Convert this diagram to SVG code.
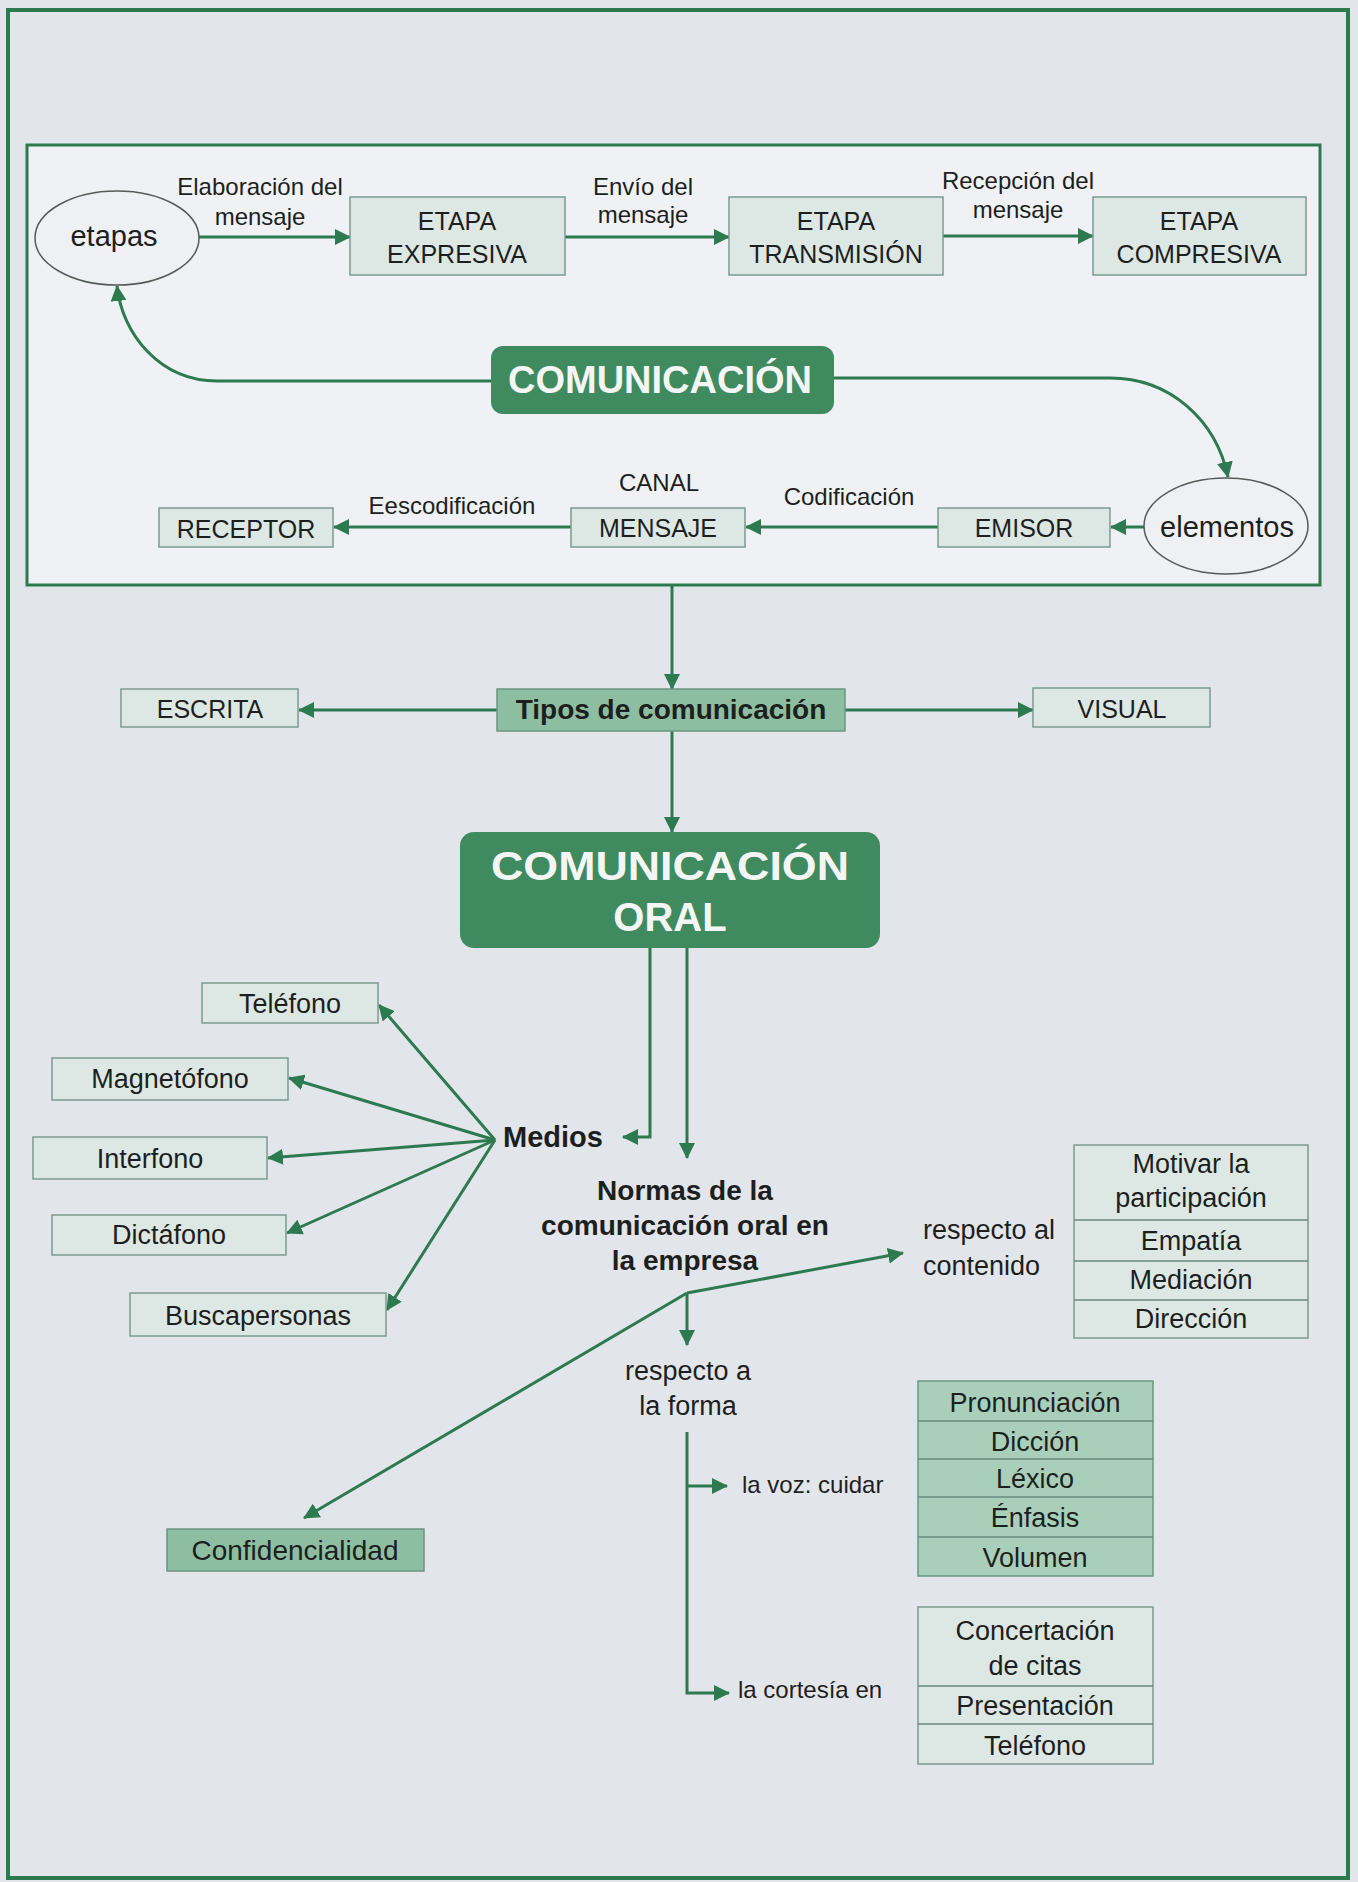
<svg xmlns="http://www.w3.org/2000/svg" width="1358" height="1882" viewBox="0 0 1358 1882">
<defs>
<style>
.t{font-family:"Liberation Sans",Arial,sans-serif;fill:#1d1f1e;text-anchor:middle}
.s{text-anchor:start}
.b{font-weight:bold}
.w{fill:#f4f6f5;font-weight:bold}
.f24{font-size:24px}.f25{font-size:25px}.f27{font-size:27px}.f28{font-size:28px}.f29{font-size:29px}
.box{fill:#dde8e4;stroke:#7d9a8e;stroke-width:1.5}
.mid{fill:#8dbea1;stroke:#6a977f;stroke-width:1.5}
.tab2{fill:#a9cfba;stroke:#6a977f;stroke-width:1.5}
.dark{fill:#3f8a5e}
.ell{fill:#eef0f3;stroke:#555b58;stroke-width:1.5}
.div{stroke:#6a8a7c;stroke-width:1.5}
.conn path,.conn line,.conn polyline{fill:none;stroke:#2e7a50;stroke-width:3}
.arr{marker-end:url(#ah)}
</style>
<marker id="ah" viewBox="0 0 16 16" refX="15" refY="8" markerWidth="16" markerHeight="16" markerUnits="userSpaceOnUse" orient="auto"><path d="M0,0 L16,8 L0,16 z" fill="#2e7a50"/></marker>
</defs>
<rect x="0" y="0" width="1358" height="1882" fill="#e2e5e9"/>
<rect x="8" y="10" width="1340" height="1868" fill="none" stroke="#2e7a4f" stroke-width="4"/>
<rect id="panel" x="27" y="145" width="1293" height="440" fill="#eff1f4" stroke="#2e7a4f" stroke-width="3"/>

<g class="conn">
<line class="arr" x1="199" y1="237" x2="350" y2="237"/>
<line class="arr" x1="565" y1="237" x2="729" y2="237"/>
<line class="arr" x1="943" y1="236" x2="1093" y2="236"/>
<path class="arr" d="M491,381 H217 C160,381 122,334 117,286"/>
<path class="arr" d="M834,378 H1110 C1170,378 1216,420 1228,477"/>
<line class="arr" x1="1145" y1="527" x2="1111" y2="527"/>
<line class="arr" x1="938" y1="527" x2="746" y2="527"/>
<line class="arr" x1="571" y1="527" x2="334" y2="527"/>
<line class="arr" x1="672" y1="585" x2="672" y2="689"/>
<line class="arr" x1="497" y1="710" x2="299" y2="710"/>
<line class="arr" x1="845" y1="710" x2="1033" y2="710"/>
<line class="arr" x1="672" y1="731" x2="672" y2="832"/>
<polyline class="arr" points="650,948 650,1137 623,1137"/>
<line class="arr" x1="687" y1="948" x2="687" y2="1158"/>
<line class="arr" x1="495" y1="1140" x2="379" y2="1005"/>
<line class="arr" x1="495" y1="1140" x2="289" y2="1078"/>
<line class="arr" x1="495" y1="1140" x2="268" y2="1158"/>
<line class="arr" x1="495" y1="1140" x2="287" y2="1233"/>
<line class="arr" x1="495" y1="1140" x2="387" y2="1310"/>
<line class="arr" x1="687" y1="1293" x2="903" y2="1253"/>
<line class="arr" x1="687" y1="1293" x2="687" y2="1345"/>
<line class="arr" x1="687" y1="1293" x2="304" y2="1518"/>
<polyline class="arr" points="687,1432 687,1693 729,1693"/>
<line class="arr" x1="687" y1="1486" x2="727" y2="1486"/>
</g>

<g id="etapas"><ellipse class="ell" cx="117" cy="238" rx="82" ry="47"/><text class="t f29" x="114" y="246">etapas</text></g>
<g id="lbl-elaboracion"><text class="t f24" x="260" y="195">Elaboración del</text><text class="t f24" x="260" y="225">mensaje</text></g>
<g id="expresiva"><rect class="box" x="350" y="197" width="215" height="78"/><text class="t f25" x="457" y="230">ETAPA</text><text class="t f25" x="457" y="263">EXPRESIVA</text></g>
<g id="lbl-envio"><text class="t f24" x="643" y="195">Envío del</text><text class="t f24" x="643" y="223">mensaje</text></g>
<g id="transmision"><rect class="box" x="729" y="197" width="214" height="78"/><text class="t f25" x="836" y="230">ETAPA</text><text class="t f25" x="836" y="263">TRANSMISIÓN</text></g>
<g id="lbl-recepcion"><text class="t f24" x="1018" y="189">Recepción del</text><text class="t f24" x="1018" y="218">mensaje</text></g>
<g id="compresiva"><rect class="box" x="1093" y="197" width="213" height="78"/><text class="t f25" x="1199" y="230">ETAPA</text><text class="t f25" x="1199" y="263">COMPRESIVA</text></g>
<g id="comunicacion"><rect class="dark" x="491" y="346" width="343" height="68" rx="12"/><text class="t w" x="660" y="393" font-size="38">COMUNICACIÓN</text></g>
<g id="elementos"><ellipse class="ell" cx="1226" cy="526" rx="82" ry="48"/><text class="t f29" x="1227" y="537">elementos</text></g>
<g id="emisor"><rect class="box" x="938" y="508" width="172" height="39"/><text class="t f25" x="1024" y="537">EMISOR</text></g>
<g id="lbl-codificacion"><text class="t f24" x="849" y="505">Codificación</text></g>
<g id="mensaje"><rect class="box" x="571" y="508" width="174" height="39"/><text class="t f25" x="658" y="537">MENSAJE</text><text class="t f24" x="659" y="491">CANAL</text></g>
<g id="lbl-eescodificacion"><text class="t f24" x="452" y="514">Eescodificación</text></g>
<g id="receptor"><rect class="box" x="159" y="508" width="174" height="39"/><text class="t f25" x="246" y="538">RECEPTOR</text></g>

<g id="escrita"><rect class="box" x="121" y="689" width="177" height="38"/><text class="t f25" x="210" y="718">ESCRITA</text></g>
<g id="tipos"><rect class="mid" x="497" y="689" width="348" height="42"/><text class="t b f28" x="671" y="719">Tipos de comunicación</text></g>
<g id="visual"><rect class="box" x="1033" y="688" width="177" height="39"/><text class="t f25" x="1122" y="718">VISUAL</text></g>
<g id="oral"><rect class="dark" x="460" y="832" width="420" height="116" rx="14"/><text class="t w" x="670" y="880" font-size="40" textLength="358" lengthAdjust="spacingAndGlyphs">COMUNICACIÓN</text><text class="t w" x="670" y="931" font-size="40">ORAL</text></g>

<g id="medios"><text class="t s b f29" x="503" y="1147">Medios</text></g>
<g id="telefono"><rect class="box" x="202" y="983" width="176" height="40"/><text class="t f27" x="290" y="1013">Teléfono</text></g>
<g id="magnetofono"><rect class="box" x="52" y="1058" width="236" height="42"/><text class="t f27" x="170" y="1088">Magnetófono</text></g>
<g id="interfono"><rect class="box" x="33" y="1137" width="234" height="42"/><text class="t f27" x="150" y="1168">Interfono</text></g>
<g id="dictafono"><rect class="box" x="52" y="1215" width="234" height="40"/><text class="t f27" x="169" y="1244">Dictáfono</text></g>
<g id="buscapersonas"><rect class="box" x="130" y="1293" width="256" height="43"/><text class="t f27" x="258" y="1325">Buscapersonas</text></g>
<g id="confidencialidad"><rect class="mid" x="167" y="1529" width="257" height="42"/><text class="t f28" x="295" y="1560">Confidencialidad</text></g>

<g id="normas"><text class="t b f28" x="685" y="1200">Normas de la</text><text class="t b f28" x="685" y="1235">comunicación oral en</text><text class="t b f28" x="685" y="1270">la empresa</text></g>
<g id="contenido"><text class="t s f27" x="923" y="1239">respecto al</text><text class="t s f27" x="923" y="1275">contenido</text></g>
<g id="forma"><text class="t f27" x="688" y="1380">respecto a</text><text class="t f27" x="688" y="1415">la forma</text></g>
<g id="voz"><text class="t s f24" x="742" y="1493">la voz: cuidar</text></g>
<g id="cortesia"><text class="t s f24" x="738" y="1698">la cortesía en</text></g>

<g id="tabla-contenido"><rect class="box" x="1074" y="1145" width="234" height="193"/><line class="div" x1="1074" y1="1220" x2="1308" y2="1220"/><line class="div" x1="1074" y1="1261" x2="1308" y2="1261"/><line class="div" x1="1074" y1="1300" x2="1308" y2="1300"/><text class="t f27" x="1191" y="1173">Motivar la</text><text class="t f27" x="1191" y="1207">participación</text><text class="t f27" x="1191" y="1250">Empatía</text><text class="t f27" x="1191" y="1289">Mediación</text><text class="t f27" x="1191" y="1328">Dirección</text></g>
<g id="tabla-voz"><rect class="tab2" x="918" y="1381" width="235" height="195"/><line class="div" x1="918" y1="1421" x2="1153" y2="1421"/><line class="div" x1="918" y1="1459" x2="1153" y2="1459"/><line class="div" x1="918" y1="1497" x2="1153" y2="1497"/><line class="div" x1="918" y1="1537" x2="1153" y2="1537"/><text class="t f27" x="1035" y="1412">Pronunciación</text><text class="t f27" x="1035" y="1451">Dicción</text><text class="t f27" x="1035" y="1488">Léxico</text><text class="t f27" x="1035" y="1527">Énfasis</text><text class="t f27" x="1035" y="1567">Volumen</text></g>
<g id="tabla-cortesia"><rect class="box" x="918" y="1607" width="235" height="157"/><line class="div" x1="918" y1="1686" x2="1153" y2="1686"/><line class="div" x1="918" y1="1724" x2="1153" y2="1724"/><text class="t f27" x="1035" y="1640">Concertación</text><text class="t f27" x="1035" y="1675">de citas</text><text class="t f27" x="1035" y="1715">Presentación</text><text class="t f27" x="1035" y="1755">Teléfono</text></g>
</svg>
